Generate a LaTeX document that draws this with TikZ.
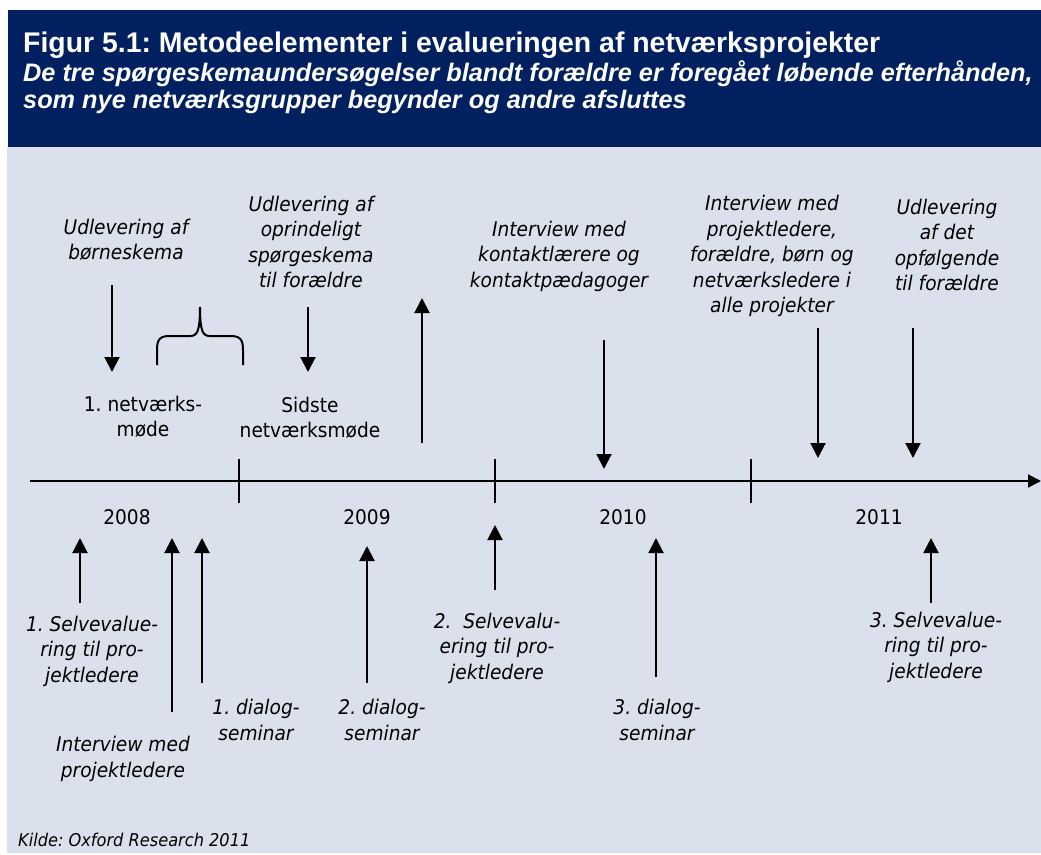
\documentclass[tikz,border=0pt]{standalone}
\usepackage{fontspec}
\setmainfont{Liberation Sans}
\newfontfamily\bodyfont[FakeStretch=0.92]{DejaVu Sans}
\usetikzlibrary{arrows.meta}
\definecolor{navy}{RGB}{0,32,96}
\definecolor{panel}{RGB}{218,225,236}
\frenchspacing
\begin{document}
\begin{tikzpicture}[x=1pt,y=-1pt,
  lab/.style={font=\bodyfont\fontsize{20.2}{25.5}\selectfont\itshape, align=center, inner sep=0pt, anchor=center},
  upr/.style={font=\bodyfont\fontsize{20.2}{25.5}\selectfont, align=center, inner sep=0pt, anchor=center},
  arr/.style={line width=2pt, -{Triangle[width=15pt,length=15pt]}},
  tick/.style={line width=2pt},
  axis/.style={line width=2pt, -{Triangle[width=13pt,length=13pt]}},
  brace/.style={line width=2pt}]
% backgrounds
\useasboundingbox (0,0) rectangle (1041,854);
\fill[white] (0,0) rectangle (1041,854);
\fill[navy] (8,10) rectangle (1041,147);
\fill[panel] (7,147) rectangle (1041,853);
% header
\node[anchor=west, inner sep=0pt, text=white, font=\bfseries\fontsize{28.4}{32}\selectfont] (title) at (23,45) {Figur 5.1: Metodeelementer i evalueringen af netværksprojekter};
\node[anchor=west, inner sep=0pt, text=white, font=\bfseries\itshape\fontsize{25.3}{28}\selectfont] (sub1) at (23,74) {De tre spørgeskemaundersøgelser blandt forældre er foregået løbende efterhånden,};
\node[anchor=west, inner sep=0pt, text=white, font=\bfseries\itshape\fontsize{25.3}{28}\selectfont] (sub2) at (23,102) {som nye netværksgrupper begynder og andre afsluttes};
% timeline
\coordinate (ax0) at (30,481);
\coordinate (ax1) at (1041,481);
\draw[axis] (ax0) -- (ax1);
\foreach \n/\x in {t1/239,t2/495,t3/751}{
  \coordinate (\n a) at (\x,459);
  \coordinate (\n b) at (\x,503);
  \draw[tick] (\n a) -- (\n b);
}
\node[upr] (y2008) at (127,517) {2008};
\node[upr] (y2009) at (367,517) {2009};
\node[upr] (y2010) at (623,517) {2010};
\node[upr] (y2011) at (879,517) {2011};
% upper labels
\node[lab] (L1) at (126,240) {Udlevering af\\børneskema};
\node[upr] (M1) at (143,417) {1. netværks-\\møde};
\node[lab] (L2) at (311,242) {Udlevering af\\oprindeligt\\spørgeskema\\til forældre};
\node[upr] (M2) at (310,418) {Sidste\\netværksmøde};
\node[lab] (L3) at (559,256) {Interview med\\kontaktlærere og\\kontaktpædagoger};
\node[lab] (L4) at (772,256) {Interview med\\projektledere,\\forældre, børn og\\netværksledere i\\alle projekter};
\node[lab] (L5) at (947,245) {Udlevering\\af det\\opfølgende\\til forældre};
% upper arrows
\coordinate (d1s) at (112,285); \coordinate (d1e) at (112,372);
\coordinate (d2s) at (308,307); \coordinate (d2e) at (308,372);
\coordinate (d3s) at (604,340); \coordinate (d3e) at (604,469);
\coordinate (d4s) at (818,328); \coordinate (d4e) at (818,458);
\coordinate (d5s) at (913,328); \coordinate (d5e) at (913,458);
\coordinate (u0s) at (422,443); \coordinate (u0e) at (422,298);
\draw[arr] (d1s) -- (d1e);
\draw[arr] (d2s) -- (d2e);
\draw[arr] (d3s) -- (d3e);
\draw[arr] (d4s) -- (d4e);
\draw[arr] (d5s) -- (d5e);
\draw[arr] (u0s) -- (u0e);
% brace
\coordinate (brL) at (157,365);
\coordinate (brT) at (200,307);
\coordinate (brR) at (243,365);
\draw[brace] (brL) -- (157,350) .. controls (157,339) and (160,336) .. (170,336) -- (190,336)
  .. controls (197,336) and (200,332) .. (brT)
  .. controls (200,332) and (203,336) .. (210,336) -- (230,336)
  .. controls (240,336) and (243,339) .. (243,350) -- (brR);
% lower labels
\node[lab] (B1) at (92,651) {1. Selvevalue-\\ring til pro-\\jektledere};
\node[lab] (B2) at (123,759) {Interview med\\projektledere};
\node[lab] (B3) at (256,720) {1. dialog-\\seminar};
\node[lab] (B4) at (382,720) {2. dialog-\\seminar};
\node[lab] (B5) at (497,648) {2.\ \ Selvevalu-\\ering til pro-\\jektledere};
\node[lab] (B6) at (657,720) {3. dialog-\\seminar};
\node[lab] (B7) at (936,647) {3. Selvevalue-\\ring til pro-\\jektledere};
% lower arrows
\coordinate (a1s) at (80,603);  \coordinate (a1e) at (80,538);
\coordinate (a2s) at (172,712); \coordinate (a2e) at (172,538);
\coordinate (a3s) at (202,683); \coordinate (a3e) at (202,538);
\coordinate (a4s) at (367,683); \coordinate (a4e) at (367,546);
\coordinate (a5s) at (495,590); \coordinate (a5e) at (495,525);
\coordinate (a6s) at (656,677); \coordinate (a6e) at (656,538);
\coordinate (a7s) at (931,603); \coordinate (a7e) at (931,538);
\foreach \i in {1,...,7}{\draw[arr] (a\i s) -- (a\i e);}
% source
\node[anchor=west, inner sep=0pt, font=\bodyfont\itshape\fontsize{17.6}{20}\selectfont] (src) at (18,840) {Kilde: Oxford Research 2011};
\end{tikzpicture}
\end{document}
